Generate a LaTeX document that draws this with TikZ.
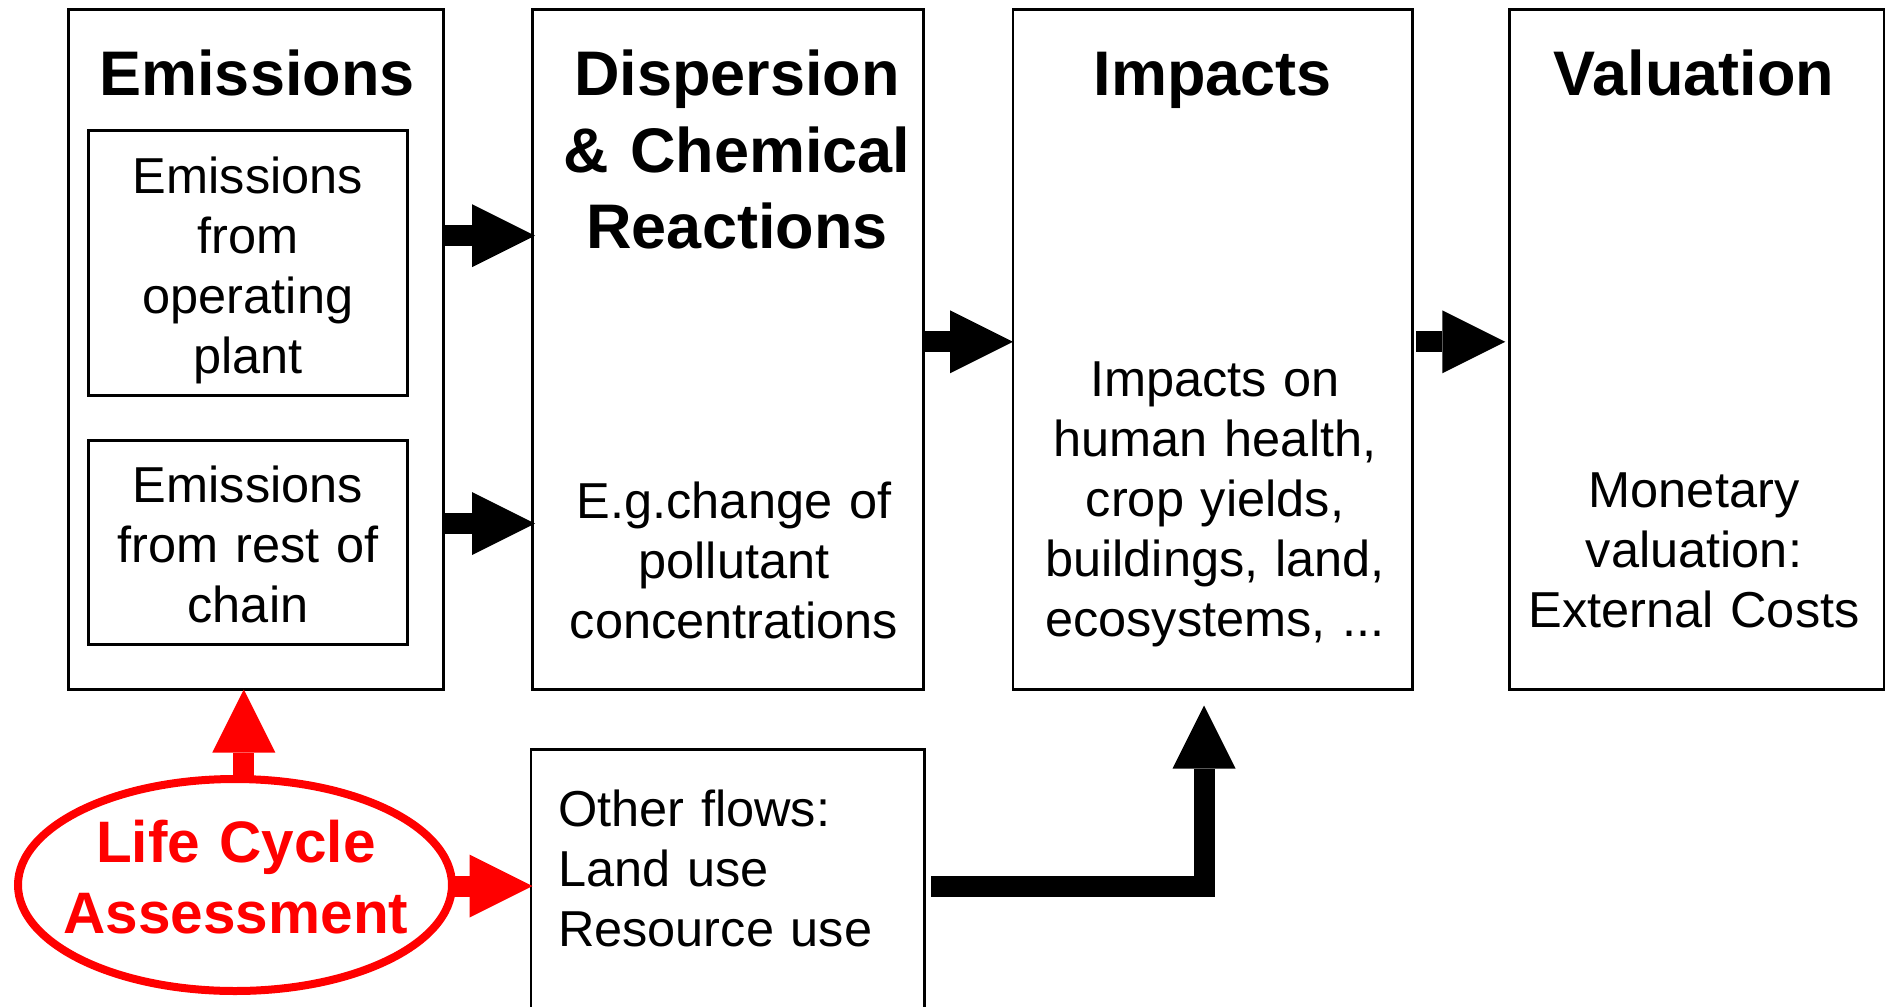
\documentclass[tikz,border=0pt]{standalone}
\usepackage{fontspec}
\usetikzlibrary{arrows.meta,shapes.geometric}
\newfontfamily\arialfont{Liberation Sans}
\begin{document}
\begin{tikzpicture}[x=1pt,y=-1pt,
  box/.style={draw, line width=2.5pt, rectangle, inner sep=0pt, outer sep=0pt},
  subbox/.style={box, line width=3pt},
  titletext/.style={font=\arialfont\bfseries\fontsize{63}{76.5}\selectfont,
    inner sep=0pt, outer sep=0pt, anchor=base, text width=400pt, align=center},
  bodytext/.style={font=\arialfont\fontsize{50.5}{60}\selectfont,
    inner sep=0pt, outer sep=0pt, anchor=base, text width=390pt, align=center},
  lcatext/.style={font=\arialfont\bfseries\fontsize{58.5}{70.5}\selectfont, text=red,
    inner sep=0pt, outer sep=0pt, anchor=base, text width=420pt, align=center},
  blockarrow/.style={line width=21pt, line cap=butt, line join=miter,
    -{Triangle[width=63pt,length=63pt,line width=0pt]}},
  redarrow/.style={blockarrow, draw=red, fill=red},
]
\clip (0,0) rectangle (1886,1006);
\fill[white] (0,0) rectangle (1886,1006);

% main stage boxes
\node[box, minimum width=375pt, minimum height=680.2pt] (emis) at (255.8,349.4) {};
\node[box, minimum width=391pt, minimum height=680.2pt] (disp) at (728,349.4) {};
\node[box, minimum width=399.3pt, minimum height=680.2pt] (imp) at (1212.65,349.4) {};
\node[box, minimum width=374.7pt, minimum height=680.2pt] (val) at (1696.65,349.4) {};

% emission sources
\node[subbox, minimum width=318.5pt, minimum height=264.5pt] (src1) at (247.75,262.75) {};
\node[subbox, minimum width=318.5pt, minimum height=204pt] (src2) at (247.75,542) {};

% other flows box, running off the bottom edge
\node[box, minimum width=393.5pt, minimum height=270.7pt] (other) at (727.75,884.65) {};

% life cycle assessment ellipse
\node[ellipse, draw=red, line width=8pt, inner sep=0pt, outer sep=0pt,
      minimum width=434pt, minimum height=212pt] (lca) at (235,885) {};

% titles
\node[titletext] (tEmis) at (257,96) {Emissions};
\node[titletext] (tDisp) at (737,96) {Dispersion\\\& Chemical\\Reactions};
\node[titletext] (tImp) at (1212.6,96) {Impacts};
\node[titletext] (tVal) at (1694,96) {Valuation};

% box contents
\node[bodytext, text width=310pt] (bSrc1) at (248,193) {Emissions\\from\\operating\\plant};
\node[bodytext, text width=310pt] (bSrc2) at (248,502) {Emissions\\from rest of\\chain};
\node[bodytext] (bDisp) at (734,518) {E.g.change of\\pollutant\\concentrations};
\node[bodytext] (bImp) at (1215,396.5) {Impacts on\\human health,\\crop yields,\\buildings, land,\\ecosystems, ...};
\node[bodytext] (bVal) at (1694,507.5) {Monetary\\valuation:\\External Costs};
\node[bodytext, text width=350pt, align=left, anchor=base west] (bOther) at (558,826)
  {Other flows:\\Land use\\Resource use};
\node[lcatext] (tLca) at (236,862.5) {Life Cycle\\Assessment};

% connector levels
\coordinate (y1) at (0,235.7);
\coordinate (y2) at (0,523.5);
\coordinate (y3) at (0,341.8);
\coordinate (yB) at (0,886);
\coordinate (xB) at (1204,0);
\coordinate (xR) at (243.8,0);

% flow arrows
\draw[blockarrow, shorten >=-2.5pt] (emis.east |- y1) -- (disp.west |- y1);
\draw[blockarrow, shorten >=-2.5pt] (emis.east |- y2) -- (disp.west |- y2);
\draw[blockarrow] (disp.east |- y3) -- (imp.west |- y3);
\draw[blockarrow, shorten <=4pt, shorten >=4pt] (imp.east |- y3) -- (val.west |- y3);
\draw[blockarrow, shorten <=6.5pt, shorten >=16pt] (other.east |- yB) -| (imp.south -| xB);

% life cycle assessment arrows
\draw[redarrow] (xR |- lca.north) -- (xR |- emis.south);
\draw[redarrow, shorten >=-1.5pt] (lca.east |- yB) -- (other.west |- yB);
\end{tikzpicture}
\end{document}
